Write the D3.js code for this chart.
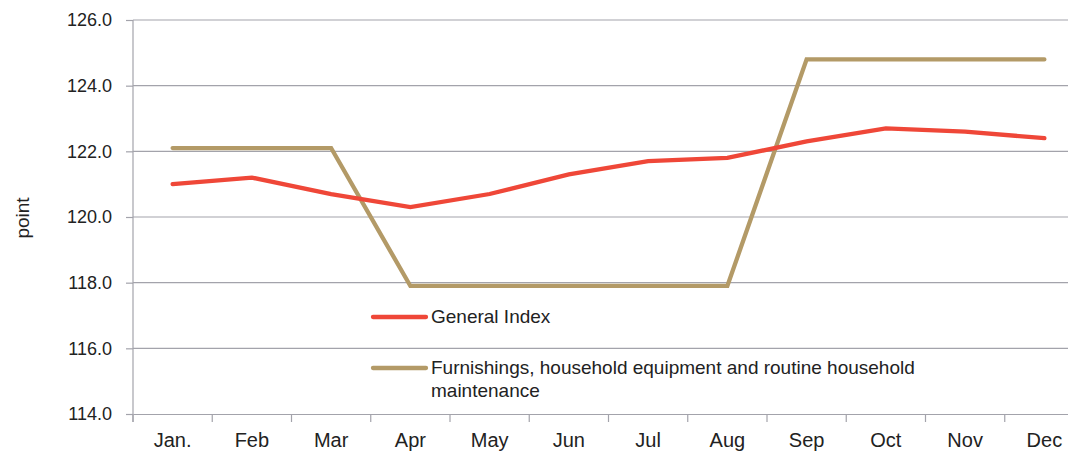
<!DOCTYPE html>
<html>
<head>
<meta charset="utf-8">
<script src="https://cdn.jsdelivr.net/npm/d3@7"></script>
<style>
  body { margin: 0; background: #fff; }
  text { font-family: "Liberation Sans", Arial, sans-serif; fill: #222; }
</style>
</head>
<body>
<div id="plot"></div>
<script>
// data
var months = ["Jan.", "Feb", "Mar", "Apr", "May", "Jun", "Jul", "Aug", "Sep", "Oct", "Nov", "Dec"];
var generalIndex = [121.0, 121.2, 120.7, 120.3, 120.7, 121.3, 121.7, 121.8, 122.3, 122.7, 122.6, 122.4];
var furnishings = [122.1, 122.1, 122.1, 117.9, 117.9, 117.9, 117.9, 117.9, 124.8, 124.8, 124.8, 124.8];
var yTicks = [114, 116, 118, 120, 122, 124, 126];
var seriesNames = ["General Index", "Furnishings, household equipment and routine household maintenance"];

var svgWidth = 1068;
var svgHeight = 455;

var margin = { top: 20, right: -16, bottom: 41, left: 133 };
var width = svgWidth - margin.left - margin.right;
var height = svgHeight - margin.top - margin.bottom;

var svg = d3.select("#plot")
    .append("svg")
    .attr("width", svgWidth)
    .attr("height", svgHeight);

var chartGroup = svg.append("g")
    .attr("transform", `translate(${margin.left}, ${margin.top})`);

// scales
var xScale = d3.scaleBand()
    .domain(months)
    .range([0, width]);

var yScale = d3.scaleLinear()
    .domain([114, 126])
    .range([height, 0]);

var xMid = d => xScale(d) + xScale.bandwidth() / 2;

// gridlines
chartGroup.append("g")
    .selectAll("line")
    .data(yTicks.slice(1))
    .enter()
    .append("line")
    .attr("x1", 0)
    .attr("x2", width)
    .attr("y1", d => yScale(d))
    .attr("y2", d => yScale(d))
    .attr("stroke", "#a3a3ab")
    .attr("stroke-width", 1.2);

// axes
var leftAxis = d3.axisLeft(yScale)
    .tickValues(yTicks)
    .tickFormat(d3.format(".1f"))
    .tickSize(7)
    .tickPadding(14);

var yAxisG = chartGroup.append("g")
    .call(leftAxis);

var bottomAxis = d3.axisBottom(xScale)
    .tickSize(0)
    .tickPadding(19);

var xAxisG = chartGroup.append("g")
    .attr("transform", `translate(0, ${height})`)
    .call(bottomAxis);

// category boundary ticks
xAxisG.selectAll(".bound")
    .data(months.concat([null]))
    .enter()
    .append("line")
    .attr("class", "bound")
    .attr("x1", (d, i) => i * xScale.bandwidth())
    .attr("x2", (d, i) => i * xScale.bandwidth())
    .attr("y1", 0)
    .attr("y2", 8)
    .attr("stroke", "#a3a3ab")
    .attr("stroke-width", 1.2);

[yAxisG, xAxisG].forEach(g => {
    g.select(".domain").attr("stroke", "#a3a3ab").attr("stroke-width", 1.2);
    g.selectAll(".tick line").attr("stroke", "#a3a3ab").attr("stroke-width", 1.2);
    g.selectAll("text")
        .attr("font-family", "'Liberation Sans', Arial, sans-serif")
        .attr("fill", "#222");
});
yAxisG.selectAll("text").attr("font-size", "18px");
xAxisG.selectAll("text").attr("font-size", "20px");
yAxisG.select(".domain").attr("d", `M0,0V${height + 8}`);

// lines
var line = d3.line()
    .x((d, i) => xMid(months[i]))
    .y(d => yScale(d));

chartGroup.append("path")
    .datum(furnishings)
    .attr("d", line)
    .attr("fill", "none")
    .attr("stroke", "#b39a67")
    .attr("stroke-width", 4.3)
    .attr("stroke-linecap", "round");

chartGroup.append("path")
    .datum(generalIndex)
    .attr("d", line)
    .attr("fill", "none")
    .attr("stroke", "#ef4738")
    .attr("stroke-width", 4.3)
    .attr("stroke-linecap", "round");

// y axis title
svg.append("text")
    .attr("transform", "rotate(-90)")
    .attr("x", -218)
    .attr("y", 29)
    .attr("text-anchor", "middle")
    .attr("font-size", "19px")
    .text("point");

// legend
var legend = svg.append("g");
var colors = ["#ef4738", "#b39a67"];
var legendY = [317, 368];

legend.selectAll("line")
    .data(seriesNames)
    .enter()
    .append("line")
    .attr("x1", 373)
    .attr("x2", 426)
    .attr("y1", (d, i) => legendY[i])
    .attr("y2", (d, i) => legendY[i])
    .attr("stroke", (d, i) => colors[i])
    .attr("stroke-width", 4.3)
    .attr("stroke-linecap", "round");

legend.append("text")
    .attr("x", 431)
    .attr("y", legendY[0] + 6)
    .attr("font-size", "19px")
    .text(seriesNames[0]);

var t2 = legend.append("text")
    .attr("x", 431)
    .attr("y", legendY[1] + 6)
    .attr("font-size", "19px");
t2.append("tspan").text("Furnishings, household equipment and routine household");
t2.append("tspan").attr("x", 431).attr("dy", 23).text("maintenance");
</script>
</body>
</html>
